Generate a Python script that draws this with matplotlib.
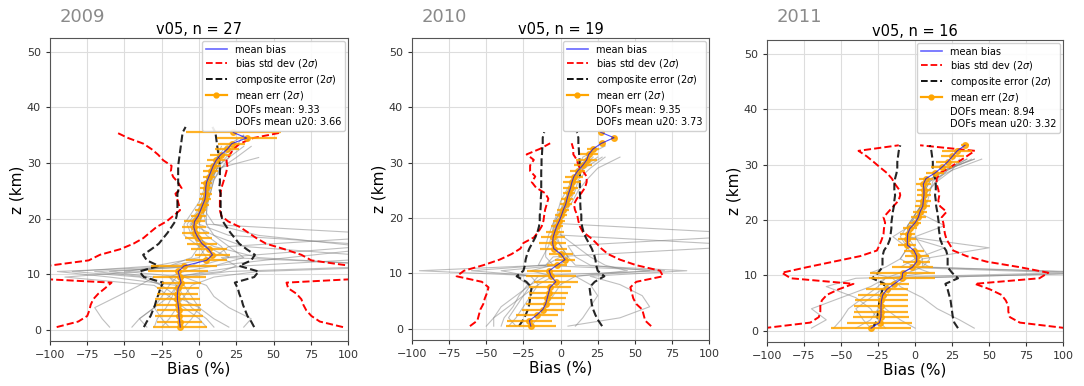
"""
Ozone bias profiles, v05 retrievals, 2009-2011.

Three panels: individual bias profiles (grey), mean bias with mean
retrieval error (2 sigma), bias std dev and composite error envelopes.
"""

import matplotlib

matplotlib.use("Agg")

import numpy as np
import matplotlib.pyplot as plt
from matplotlib.lines import Line2D

nan = np.nan

# ---------------------------------------------------------------- 2009 ----
z_mean_09 = np.arange(0.5, 36, 1.0)
bias_09 = [-12.6, -13, -13.5, -13.5, -14, -14.5, -14.5, -14, -12, -13, -14, -10,
           5, 9, 6.5, 2, -0.5, -2.5, -3.5, -3, -0.5, 1, 2.5, 4, 4.5, 4.5, 5, 6.5,
           8, 9.5, 11.5, 14.5, 19, 22, 32, 23]
err_09 = [18, 15, 16, 15, 15, 15, 14, 14, 13, 18, 20, 22, 14, 12, 12, 10, 9, 9,
          8, 7, 5, 4, 4, 4, 4, 4, 4, 4, 5, 5, 6, 7, 8, 9, 20, 32]
z_sd_09 = np.arange(0.5, 36, 1.0)
sd_left_09 = [-95.5, -81, -75, -73.6, -72.7, -71, -67.6, -63, -58.7, -130, -130,
              -102, -74, -66.5, -53, -44, -37.4, -33, -28.5, -21.8, -17.3, -12.8,
              -13.5, -14.6, -15.8, -11.7, -14, -17.3, -18.9, -18.4, -24, -27.4,
              -31.8, -37.4, -47.5, -55.3]
sd_right_09 = [96.6, 81, 75.4, 72, 70, 68.7, 65.4, 59.8, 58.7, 130, 130, 102,
               75.4, 68.7, 57.5, 45, 38.5, 33, 27.4, 19.6, 15, 14, 14, 14, 14.4,
               15, 16.2, 17.3, 18.4, 19, 18.4, 20.7, 23, 27.4, 36.3, 55.3]
z_ce_09 = np.arange(0.5, 37, 1.0)
ce_09 = [37, 35, 32.5, 31, 29.5, 28.5, 27, 26, 24, 37, 40, 27, 35, 37.5, 32, 27,
         24, 21, 18.5, 16, 15, 14.5, 14.5, 14.5, 14.5, 13.5, 14, 14, 14, 14,
         13.5, 13, 12.5, 12, 11.5, 11, 9]

# shared altitude nodes for the individual profiles
z_prof = [0.5, 2, 4, 6, 8, 9.5, 10.5, 11.5, 13, 15, 17, 19, 21, 23, 25, 27,
          29, 31, 33, 35]

prof_09 = [
    [-20, -25, -30, -28, -25, -40, -85, -30, 0, 5, 0, -5, 0, 3, 5, 8, 12, 15, 20, nan],
    [10, 5, -5, -10, -15, -20, -10, 10, 60, 130, 20, 0, 2, 5, 6, 8, 10, 14, 25, nan],
    [-60, -65, -70, -55, -40, -30, -60, 0, 20, 15, 5, 0, 3, 6, 8, 10, 15, 20, nan, nan],
    [-35, -40, -30, -20, -15, -10, 20, 130, 40, 10, -5, -8, -2, 2, 4, 6, 10, 20, 30, nan],
    [30, 35, 20, 10, 5, -10, -50, -20, 10, 20, 140, 5, 3, 5, 7, 9, 12, 18, 25, 30],
    [-10, -5, 0, -15, -25, -35, -70, 10, 30, 20, 10, 5, 5, 5, 6, 8, 12, 40, nan, nan],
    [-45, -40, -30, -25, -20, -15, 5, 30, 130, 30, 10, -5, 0, 4, 5, 7, 10, 15, 20, nan],
    [5, 0, -10, -20, -30, -90, -40, -20, -5, 0, -10, -10, -5, 0, 3, 5, 8, 12, 18, 30],
    [-25, -20, -15, -10, -5, 10, 40, 150, 20, 5, 0, -3, 0, 4, 6, 8, 10, 12, 15, nan],
    [20, 10, 0, -5, -10, -20, 15, 25, 15, 110, 40, 10, 5, 6, 8, 10, 14, 25, 35, nan],
    [-30, -28, -22, -18, -15, -60, -95, -5, 5, 0, -4, -6, -1, 2, 4, 7, 9, 13, nan, nan],
]

# ---------------------------------------------------------------- 2010 ----
z_mean_10 = np.arange(0.5, 36, 1.0)
bias_10 = [-20, -21, -16, -12, -10, -9, -8, -7, -3.2, -6.4, -7.7, -2.4, 3, 0.3,
           -4.6, -5.3, -5, -3.9, -2.6, -0.8, 0.6, 1.9, 3.5, 4.4, 5.5, 6.8, 7.7, 9,
           11.5, 14.9, 17.6, 19, 22, 27.6, 36, 27]
err_10 = [17, 15, 14, 14, 13, 13, 13, 14, 15, 17, 15, 7, 7, 8, 9, 9, 8, 6, 4, 4,
          4, 4, 4, 4, 4, 5, 6, 6, 5, 6, 7, 6, 4, 2, 2, 2]
z_sd_10 = np.arange(0.5, 34, 1.0)
sd_left_10 = [-61, -56, -55, -54, -52, -51, -49.5, -48.5, -53, -70, -65, -52, -41,
              -33, -27, -25, -18, -15, -12.7, -11.5, -11, -10.4, -9.3, -8.2,
              -10.4, -16.5, -19.4, -17, -20.5, -20.5, -18, -22.8, -13.8, -7]
sd_right_10 = [61, 57, 56, 55, 51, 49, 48, 47, 51, 69, 67, 51, 40, 32, 27.5, 24,
               20, 15, 13, 12, 11.3, 9.7, 9, 11, 14, 16.5, 17.6, 17.6, 15, 12,
               11, 8.6, 8.6, 7.5]
z_ce_10 = np.arange(0.5, 36, 1.0)
ce_10 = [28, 25.5, 23.5, 22, 21, 20.5, 20, 19.5, 23, 29.5, 25, 24, 23.5, 22.5,
         21, 19, 17, 15.5, 14.5, 14, 14, 13.5, 13.3, 13.3, 13, 13, 13, 13, 13,
         12.8, 12.8, 12.5, 12.3, 12, 12, 11]

prof_10 = [
    [-45, -45, -40, -30, -20, -10, -95, -10, 0, -5, -5, 0, 2, 5, 8, 10, 15, 20, nan, nan],
    [5, 40, 60, 55, 40, 20, 85, 10, 5, 0, -3, -2, 2, 5, 7, 10, 12, 18, nan, nan],
    [-30, -35, -30, -25, -20, -15, -60, -10, -5, 130, -5, -5, 0, 3, 6, 10, 14, 25, nan, nan],
    [-20, -15, -10, -5, 0, 10, 60, 20, 10, 5, 140, 0, 2, 6, 10, 12, 20, 30, nan, nan],
    [-35, -30, -25, -20, -15, -20, -40, 0, 5, 0, -5, -3, 3, 8, 12, 18, 25, 40, nan, nan],
    [10, 15, 20, 25, 20, 10, 45, 30, 20, 10, 0, -2, 0, 4, 6, 8, 12, 15, 30, nan],
    [-50, -45, -35, -25, -15, -5, -20, -5, -10, -10, -8, -5, -2, 0, 4, 8, 14, 22, nan, nan],
    [-40, -38, -32, -28, -22, -30, 70, -15, -12, -8, -6, -4, -1, 3, 5, 9, 16, 28, nan, nan],
]

# ---------------------------------------------------------------- 2011 ----
z_mean_11 = np.arange(0.5, 34, 1.0)
bias_11 = [-29.7, -24, -23, -23, -23, -22.7, -21.8, -19, -14, -8.8, -8.3, -1.8,
           1.1, 1.1, -0.7, -5.2, -5.2, -5, -3.4, 0, 2.2, 3.4, 5.2, 5.6, 6, 6,
           5.6, 7.4, 13.5, 18, 22, 25.2, 28.5, 33.7]
err_11 = [27, 22, 19, 18, 18, 18, 17, 14, 10, 22, 22, 14, 9, 8, 7, 6, 6, 5, 5,
          4, 5, 5, 5, 5, 5, 5, 5, 5, 6, 7, 8, 8, 10, 3]
z_sd_11 = np.arange(0.5, 34, 1.0)
sd_left_11 = [-102, -70.8, -65, -64, -64, -63, -59.6, -51.7, -41.6, -84, -90, -73,
              -55, -37, -25.8, -24, -22.5, -21.3, -21, -20.2, -21.3, -18, -14.6,
              -11.2, -10, -10.8, -13.5, -15.7, -19, -23.6, -28, -32.6, -38.2, -11]
sd_right_11 = [102, 70.8, 64, 63, 63, 61.3, 58.4, 50.6, 40.4, 84, 90, 70.8, 48.3,
               34.8, 25.8, 23.6, 21.3, 20.2, 19.6, 19.1, 18, 21.3, 16.9, 15.7,
               16.4, 15.7, 14.6, 14.6, 16.9, 23.6, 29.2, 34.8, 40.4, 3.4]
z_ce_11 = np.arange(0.5, 34, 1.0)
ce_11 = [29, 26.5, 25.5, 25, 24.5, 24, 23, 22, 20.5, 29, 25, 22, 22, 22, 21,
         18.5, 17, 16.5, 16, 16, 15.5, 15, 14.3, 14, 13.5, 14, 14, 13.5, 12.5,
         12, 12, 11.5, 11, 10]

prof_11 = [
    [-70, -60, -70, -50, -30, -20, -10, 0, 5, 50, -5, -5, 0, 5, 6, 8, 20, 35, nan, nan],
    [-30, -35, -40, -30, -20, -10, 130, 10, 0, -5, -10, -5, 0, 5, 6, 8, 20, 40, nan, nan],
    [-40, -30, -25, -20, -15, -5, 120, 5, 5, 0, -5, 0, 3, 4, 6, 10, 25, 45, nan, nan],
    [40, 30, 15, 5, -10, -15, -30, -20, -10, -5, -15, -3, 0, 5, 8, 15, 25, 30, nan, nan],
    [-20, -25, -30, -40, -60, -40, 100, -10, 0, 20, -5, -5, 2, 4, 6, 10, 20, 40, nan, nan],
    [0, -10, -20, -25, -20, -10, -5, 5, 10, 5, 0, 20, 5, 8, 10, 12, 22, 38, nan, nan],
    [-55, -50, -45, -35, -25, -20, 10, 0, -10, -5, -5, 0, 4, 6, 8, 14, 22, 35, nan, nan],
]

YEARS = ["2009", "2010", "2011"]
N_PROFILES = [27, 19, 16]
DOFS = [(9.33, 3.66), (9.35, 3.73), (8.94, 3.32)]

PANELS = [
    (z_mean_09, bias_09, err_09, z_sd_09, sd_left_09, sd_right_09, z_ce_09, ce_09, prof_09),
    (z_mean_10, bias_10, err_10, z_sd_10, sd_left_10, sd_right_10, z_ce_10, ce_10, prof_10),
    (z_mean_11, bias_11, err_11, z_sd_11, sd_left_11, sd_right_11, z_ce_11, ce_11, prof_11),
]

# axes rectangles in figure fractions (left, bottom, width, height)
AX_RECTS = [
    (0.0461, 0.1166, 0.2750, 0.7850),
    (0.3801, 0.1192, 0.2740, 0.7824),
    (0.7076, 0.1140, 0.2731, 0.7824),
]


def draw_panel(ax, data, year, n, dofs):
    z_m, bias, err, z_sd, sd_l, sd_r, z_ce, ce, profs = data

    for p in profs:
        ax.plot(p, z_prof, color="grey", lw=0.8, alpha=0.5, zorder=1)

    ax.errorbar(bias, z_m, xerr=err, fmt="o", color="orange", ms=4,
                elinewidth=1.6, alpha=0.85, capsize=0, zorder=3)
    # thin mean-bias line drawn over the orange markers, as in the original
    ax.plot(bias, z_m, color="blue", lw=0.8, alpha=0.7, zorder=5)

    ax.plot(sd_l, z_sd, color="red", ls="--", lw=1.4, zorder=2)
    ax.plot(sd_r, z_sd, color="red", ls="--", lw=1.4, zorder=2)
    ce = np.asarray(ce)
    ax.plot(-ce, z_ce, color="black", ls="--", lw=1.5, alpha=0.85, zorder=2)
    ax.plot(ce, z_ce, color="black", ls="--", lw=1.5, alpha=0.85, zorder=2)

    ax.set_xlim(-100, 100)
    ax.set_ylim(-2, 52.5)
    ax.set_xticks([-100, -75, -50, -25, 0, 25, 50, 75, 100])
    ax.set_yticks([0, 10, 20, 30, 40, 50])
    ax.tick_params(labelsize=8, length=3, colors="#333333")
    ax.grid(True, color="#dddddd", lw=0.8)
    ax.set_axisbelow(True)
    for s in ax.spines.values():
        s.set_color("#555555")

    ax.set_xlabel("Bias (%)", fontsize=11, labelpad=1)
    ax.set_ylabel("z (km)", fontsize=11, labelpad=2)
    ax.set_title(f"v05, n = {n}", fontsize=10.5, pad=3)

    handles = [
        Line2D([], [], color="blue", alpha=0.6, lw=1.2),
        Line2D([], [], color="red", ls="--", lw=1.3),
        Line2D([], [], color="black", ls="--", lw=1.3),
        Line2D([], [], color="orange", marker="o", ms=3.5, lw=1.6),
        Line2D([], [], ls="none"),
        Line2D([], [], ls="none"),
    ]
    labels = [
        "mean bias",
        r"bias std dev (2$\sigma$)",
        r"composite error (2$\sigma$)",
        r"mean err (2$\sigma$)",
        f"DOFs mean: {dofs[0]:.2f}",
        f"DOFs mean u20: {dofs[1]:.2f}",
    ]
    leg = ax.legend(handles, labels, loc="upper right", fontsize=7,
                    handlelength=2.2, labelspacing=0.25, borderpad=0.4,
                    borderaxespad=0.3, framealpha=0.9)
    leg.get_frame().set_edgecolor("#cccccc")


def main():
    fig = plt.figure(figsize=(10.84, 3.86), dpi=100)
    for i, rect in enumerate(AX_RECTS):
        ax = fig.add_axes(rect)
        draw_panel(ax, PANELS[i], YEARS[i], N_PROFILES[i], DOFS[i])
        x0 = rect[0] + 0.009
        fig.text(x0, 0.955, YEARS[i], fontsize=13, color="#8a8a8a",
                 ha="left", va="center")
    fig.savefig("out.png", dpi=100, facecolor="white")
    plt.close(fig)


if __name__ == "__main__":
    main()
